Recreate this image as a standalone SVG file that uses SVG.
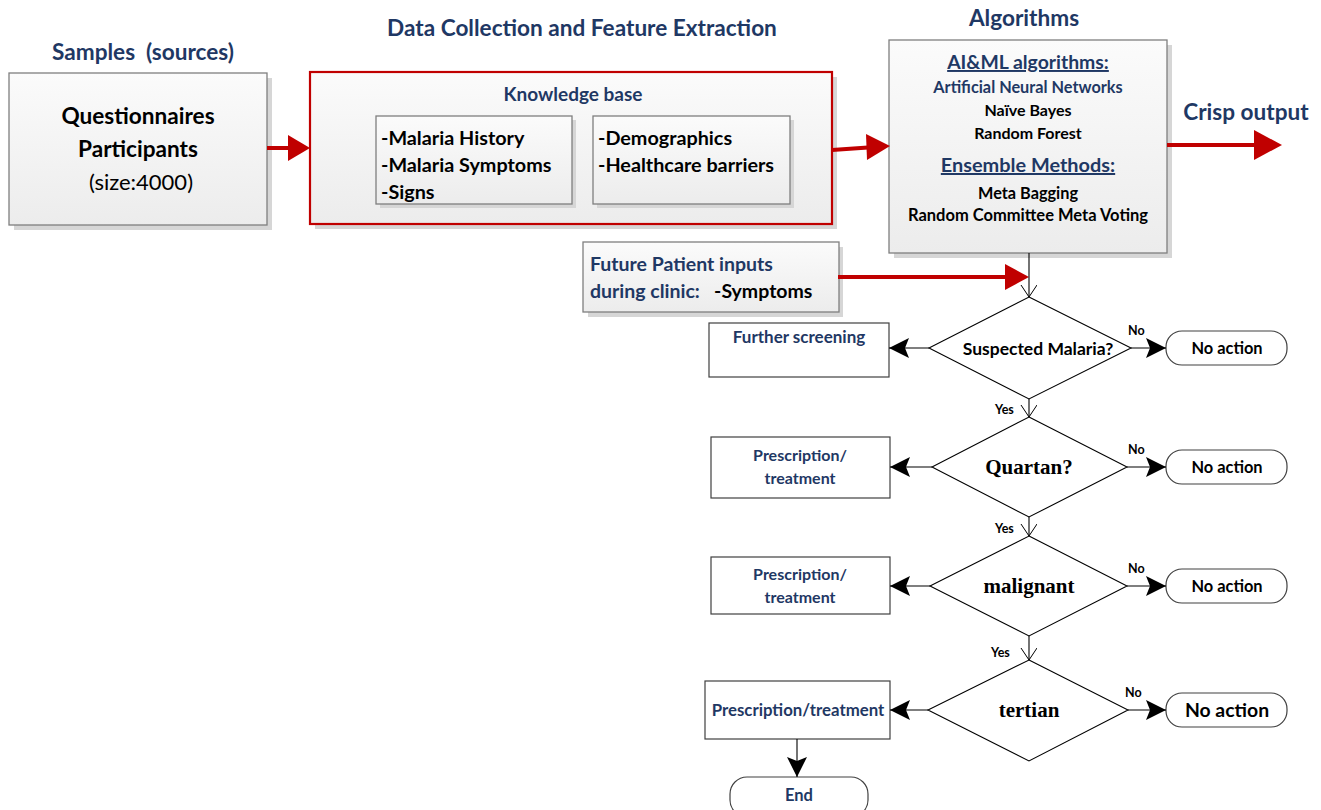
<svg xmlns="http://www.w3.org/2000/svg" width="1321" height="810" viewBox="0 0 1321 810">
<style>
  text { font-family: Lato, "Liberation Sans", sans-serif; font-weight: bold; }
  .navy { fill: #1f3864; }
  .blk { fill: #000; }
  .title { font-size: 22.6px; fill: #1f3864; }
  .shadow { fill: #d6d6d6; }
  .gbox { fill: url(#g); stroke: #7f7f7f; stroke-width: 1.3; }
  .kb { fill: url(#g); stroke: #c00000; stroke-width: 2.2; }
  .fbox { fill: #fff; stroke: #404040; stroke-width: 1.2; }
  .dia { fill: #fff; stroke: #000; stroke-width: 1.1; }
  .red { stroke: #c00000; stroke-width: 4; fill: none; }
  .redh { fill: #c00000; }
  .ln { stroke: #000; stroke-width: 1.1; fill: none; }
  .serif { font-family: "Liberation Serif", serif; font-size: 21px; }
  .lab { font-size: 12.5px; fill: #000; }
  .na { font-size: 16.4px; fill: #000; }
  .rx { font-size: 16px; fill: #1f3864; }
</style>
<defs>
  <linearGradient id="g" x1="0" y1="0" x2="0" y2="1">
    <stop offset="0" stop-color="#fbfbfb"/>
    <stop offset="1" stop-color="#ececec"/>
  </linearGradient>
  <marker id="ah" markerWidth="22" markerHeight="22" refX="20" refY="10" orient="auto" markerUnits="userSpaceOnUse">
    <path d="M0,0 L20,10 L0,20 L4,10 Z" fill="#000"/>
  </marker>
  <marker id="chev" markerWidth="14" markerHeight="18" refX="12" refY="8" orient="auto" markerUnits="userSpaceOnUse">
    <path d="M0,0 L12,8 L0,16" fill="none" stroke="#000" stroke-width="1"/>
  </marker>
</defs>

<rect width="1321" height="810" fill="#fff"/>

<!-- titles -->
<text class="title" x="143" y="60" text-anchor="middle" xml:space="preserve">Samples  (sources)</text>
<text class="title" x="582" y="36" text-anchor="middle">Data Collection and Feature Extraction</text>
<text class="title" x="1024" y="26" text-anchor="middle">Algorithms</text>
<text class="title" x="1246" y="120" text-anchor="middle">Crisp output</text>

<!-- Samples -->
<g id="samples">
  <rect class="shadow" x="14" y="78" width="258" height="152"/>
  <rect class="gbox" x="9" y="73" width="258" height="152"/>
  <text x="138" y="124" text-anchor="middle" font-size="22.6" class="blk">Questionnaires</text>
  <text x="138" y="157" text-anchor="middle" font-size="22.6" class="blk">Participants</text>
  <text x="141" y="190" text-anchor="middle" font-size="22" class="blk" style="font-weight:normal">(size:4000)</text>
</g>

<!-- Knowledge base -->
<g id="knowledge-base">
  <rect class="shadow" x="315" y="77" width="522" height="152"/>
  <rect class="kb" x="310" y="72" width="522" height="152"/>
  <text x="573" y="101" text-anchor="middle" font-size="19" class="navy">Knowledge base</text>
  <rect class="shadow" x="380" y="120" width="196" height="88"/>
  <rect class="gbox" x="376" y="116" width="196" height="88"/>
  <text x="381" y="145" font-size="19.8" class="blk">-Malaria History</text>
  <text x="381" y="172" font-size="19.8" class="blk">-Malaria Symptoms</text>
  <text x="381" y="199" font-size="19.8" class="blk">-Signs</text>
  <rect class="shadow" x="597" y="120" width="197" height="88"/>
  <rect class="gbox" x="593" y="116" width="197" height="88"/>
  <text x="598" y="145" font-size="19.8" class="blk">-Demographics</text>
  <text x="598" y="172" font-size="19.8" class="blk">-Healthcare barriers</text>
</g>

<!-- Algorithms -->
<g id="algorithms">
  <rect class="shadow" x="894" y="45" width="278" height="213"/>
  <rect class="gbox" x="889" y="40" width="278" height="213"/>
  <text x="1028" y="69" text-anchor="middle" font-size="19.4" class="navy" text-decoration="underline">AI&amp;ML algorithms:</text>
  <text x="1028" y="93" text-anchor="middle" font-size="16.3" class="navy">Artificial Neural Networks</text>
  <text x="1028" y="116" text-anchor="middle" font-size="16" class="blk">Naïve Bayes</text>
  <text x="1028" y="139" text-anchor="middle" font-size="16" class="blk">Random Forest</text>
  <text x="1028" y="172" text-anchor="middle" font-size="19.9" class="navy" text-decoration="underline">Ensemble Methods:</text>
  <text x="1028" y="199" text-anchor="middle" font-size="16.3" class="blk">Meta Bagging</text>
  <text x="1028" y="221" text-anchor="middle" font-size="16.5" class="blk">Random Committee Meta Voting</text>
</g>

<!-- Future patient -->
<g id="future-patient">
  <rect class="shadow" x="588" y="247" width="255" height="70"/>
  <rect class="gbox" x="583" y="242" width="256" height="70"/>
  <text x="590" y="271" font-size="19.5" class="navy">Future Patient inputs</text>
  <text x="590" y="298" font-size="19.5" class="navy" xml:space="preserve">during clinic:   <tspan class="blk">-Symptoms</tspan></text>
</g>

<!-- decisions -->
<g id="d1">
  <polygon class="dia" points="1029,297 1131,348 1029,399 929,348"/>
  <text x="1038" y="355" text-anchor="middle" font-size="17.5" class="blk">Suspected Malaria?</text>
</g>
<g id="d2">
  <polygon class="dia" points="1029,417 1127,467 1029,517 932,467"/>
  <text x="1029" y="474" text-anchor="middle" class="serif blk">Quartan?</text>
</g>
<g id="d3">
  <polygon class="dia" points="1029,536 1127,586 1029,636 930,586"/>
  <text x="1029" y="593" text-anchor="middle" class="serif blk">malignant</text>
</g>
<g id="d4">
  <polygon class="dia" points="1029,660 1128,710 1029,761 928,710"/>
  <text x="1029" y="717" text-anchor="middle" class="serif blk">tertian</text>
</g>

<!-- left boxes -->
<g id="further-screening">
  <rect class="fbox" x="709" y="323" width="180" height="54"/>
  <text x="799" y="343" text-anchor="middle" font-size="17" class="navy">Further screening</text>
</g>
<g id="rx1">
  <rect class="fbox" x="711" y="437" width="179" height="61"/>
  <text x="800" y="461" text-anchor="middle" class="rx">Prescription/</text>
  <text x="800" y="484" text-anchor="middle" class="rx">treatment</text>
</g>
<g id="rx2">
  <rect class="fbox" x="711" y="557" width="179" height="57"/>
  <text x="800" y="580" text-anchor="middle" class="rx">Prescription/</text>
  <text x="800" y="603" text-anchor="middle" class="rx">treatment</text>
</g>
<g id="rx3">
  <rect class="fbox" x="705" y="681" width="185" height="58"/>
  <text x="798" y="716" text-anchor="middle" font-size="16.8" class="navy">Prescription/treatment</text>
</g>
<g id="end">
  <rect class="fbox" x="730" y="777" width="138" height="40" rx="17"/>
  <text x="799" y="801" text-anchor="middle" font-size="16.5" class="navy">End</text>
</g>

<!-- no action boxes -->
<g id="na1">
  <rect class="fbox" x="1166" y="331" width="121" height="34" rx="16"/>
  <text x="1227" y="354" text-anchor="middle" class="na">No action</text>
</g>
<g id="na2">
  <rect class="fbox" x="1166" y="450" width="121" height="34" rx="16"/>
  <text x="1227" y="473" text-anchor="middle" class="na">No action</text>
</g>
<g id="na3">
  <rect class="fbox" x="1166" y="569" width="121" height="34" rx="16"/>
  <text x="1227" y="592" text-anchor="middle" class="na">No action</text>
</g>
<g id="na4">
  <rect class="fbox" x="1166" y="693" width="121" height="34" rx="16"/>
  <text x="1227" y="717" text-anchor="middle" font-size="19.4" class="blk">No action</text>
</g>

<!-- connectors -->
<g id="connectors">
  <line class="red" x1="267" y1="148" x2="290" y2="148"/>
  <polygon class="redh" points="288,135 310,148 288,161"/>
  <line class="red" x1="832" y1="150" x2="868" y2="147.5"/>
  <polygon class="redh" points="866,134 890,146 867,160"/>
  <line class="red" x1="1167" y1="145" x2="1256" y2="145" stroke-width="5"/>
  <polygon class="redh" points="1254,130 1282,145 1254,160"/>
  <line class="red" x1="838" y1="277" x2="1007" y2="277"/>
  <polygon class="redh" points="1005,264 1029,277 1005,290"/>

  <line class="ln" x1="1029" y1="253" x2="1029" y2="297" marker-end="url(#chev)"/>
  <line class="ln" x1="1029" y1="399" x2="1029" y2="417" marker-end="url(#chev)"/>
  <line class="ln" x1="1029" y1="517" x2="1029" y2="536" marker-end="url(#chev)"/>
  <line class="ln" x1="1029" y1="636" x2="1029" y2="660" marker-end="url(#chev)"/>

  <line class="ln" x1="929" y1="348" x2="889" y2="348" marker-end="url(#ah)"/>
  <line class="ln" x1="932" y1="467" x2="890" y2="467" marker-end="url(#ah)"/>
  <line class="ln" x1="930" y1="586" x2="890" y2="586" marker-end="url(#ah)"/>
  <line class="ln" x1="928" y1="710" x2="890" y2="710" marker-end="url(#ah)"/>

  <line class="ln" x1="1131" y1="348" x2="1166" y2="348" marker-end="url(#ah)"/>
  <line class="ln" x1="1127" y1="467" x2="1166" y2="467" marker-end="url(#ah)"/>
  <line class="ln" x1="1127" y1="586" x2="1166" y2="586" marker-end="url(#ah)"/>
  <line class="ln" x1="1128" y1="710" x2="1166" y2="710" marker-end="url(#ah)"/>

  <line class="ln" x1="797" y1="739" x2="797" y2="777" marker-end="url(#ah)"/>

  <text class="lab" x="1128" y="335">No</text>
  <text class="lab" x="1128" y="454">No</text>
  <text class="lab" x="1128" y="573">No</text>
  <text class="lab" x="1125" y="697">No</text>
  <text class="lab" x="995" y="414">Yes</text>
  <text class="lab" x="995" y="533">Yes</text>
  <text class="lab" x="991" y="657">Yes</text>
</g>
</svg>
